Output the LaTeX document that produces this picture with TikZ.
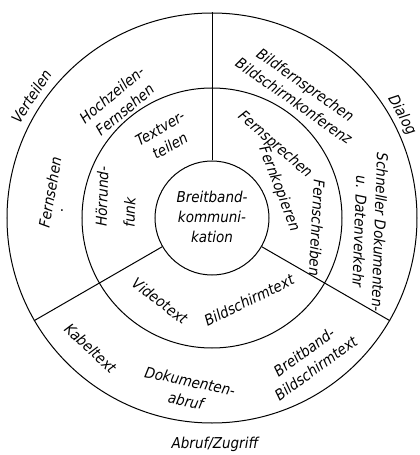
\documentclass[tikz,border=0pt]{standalone}
\usepackage{fontspec}
\setmainfont{DejaVu Sans Condensed}
\begin{document}
\begin{tikzpicture}[x=1pt,y=1pt,
  ring/.style={draw, line width=1pt, circle, inner sep=0pt},
  divider/.style={line width=1pt},
  lbl/.style={font=\itshape\fontsize{15}{20}\selectfont, align=center, inner sep=0pt},
]
\useasboundingbox (-212,-237) rectangle (208,218);
% rings
\node[ring, minimum size=114pt] (core) at (0,0) {};
\node[ring, minimum size=260pt] (mid) at (0,0) {};
\node[ring, minimum size=410pt] (outer) at (0,0) {};
% sector dividers
\draw[divider] (core.90) -- (outer.90);
\draw[divider] (core.210) -- (outer.210);
\draw[divider] (core.330) -- (outer.330);
% centre
\node[lbl] (centre) at (0,1) {Breitband-\\kommuni-\\kation};
% outer labels
\node[lbl, rotate=57] (verteilen) at (146:218) {Verteilen};
\node[lbl, rotate=-61.5] (dialog) at (28.5:216) {Dialog};
\node[lbl] (abruf) at (3,-226) {Abruf/Zugriff};
% outer ring
\node[lbl, rotate=40] (hochzeilen) at (129:149) {Hochzeilen-\\Fernsehen};
\node[lbl, rotate=80] (fernsehen) at (171:164) {Fernsehen};
\node[inner sep=0pt, font=\fontsize{15}{15}\selectfont] (fdot) at (-150,7) {.};
\node[lbl, rotate=-35] (bildfern) at (55:153) {Bildfernsprechen\\Bildschirmkonferenz};
\node[lbl, rotate=-92] (schnell) at (158,-14) {Schneller Dokumenten-\\u. Datenverkehr};
\node[lbl, rotate=-43] (kabel) at (227:178) {Kabeltext};
\node[lbl, rotate=-12] (dokabruf) at (-24,-173) {Dokumenten-\\abruf};
\node[lbl, rotate=36] (bbtext) at (98,-142) {Breitband-\\Bildschirmtext};
% inner ring
\node[lbl, rotate=30] (textvert) at (-47,81) {Textver-\\teilen};
\node[lbl, rotate=88, align=left] (hoer) at (-96,21) {Hörrund-\\[8pt]funk};
\node[lbl, rotate=-41] (fernspr) at (63,73) {Fernsprechen};
\node[lbl, rotate=-69] (fernkop) at (67,29) {Fernkopieren};
\node[lbl, rotate=-93] (fernschr) at (105,-10) {Fernschreiben};
\node[lbl, rotate=-37] (video) at (-52,-83) {Videotext};
\node[lbl, rotate=26] (btx) at (37,-82) {Bildschirmtext};
\end{tikzpicture}
\end{document}
